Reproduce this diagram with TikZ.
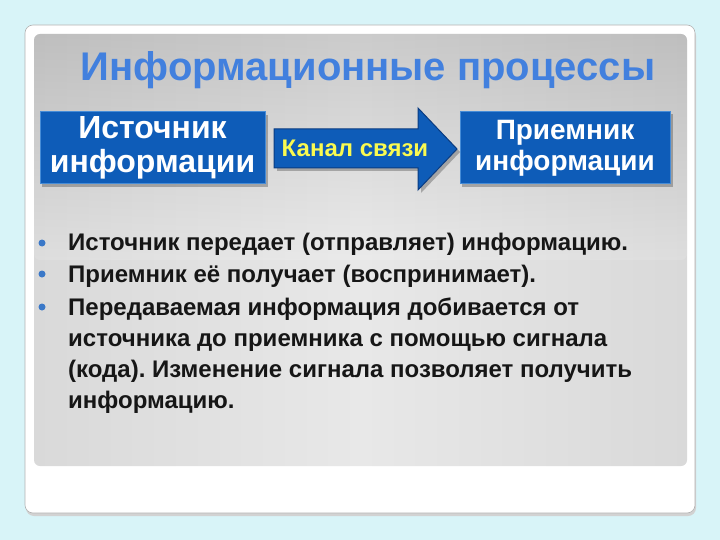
\documentclass[tikz,border=0pt]{standalone}
\usepackage{fontspec}
\setmainfont{Liberation Sans}
\usetikzlibrary{shadings}
\frenchspacing
\definecolor{bgcyan}{RGB}{216,244,248}
\definecolor{titleblue}{RGB}{66,128,222}
\definecolor{boxblue}{RGB}{14,92,184}
\definecolor{boxedge}{RGB}{70,140,215}
\definecolor{arrowedge}{RGB}{10,60,130}
\definecolor{chanyellow}{RGB}{250,250,80}
\definecolor{bulletblue}{RGB}{58,120,200}
\definecolor{txt}{RGB}{22,22,22}
\definecolor{pedge}{RGB}{165,165,165}
\definecolor{plight}{RGB}{208,208,208}
\definecolor{pmid}{RGB}{232,232,232}
\pgfdeclarehorizontalshading{panelh}{100bp}{color(0bp)=(pedge); color(10bp)=(plight); color(50bp)=(pmid); color(90bp)=(plight); color(100bp)=(pedge)}
\tikzset{
  bluebox/.style={draw=boxedge, line width=1pt, fill=boxblue, text=white, align=center, inner sep=0pt},
  btext/.style={anchor=base west, text=txt, font=\fontsize{24}{31}\selectfont\bfseries, inner sep=0pt},
  dot/.style={circle, fill=bulletblue, minimum size=7pt, inner sep=0pt},
}
\begin{document}
\begin{tikzpicture}[x=1pt,y=-1pt]
\useasboundingbox (0,0) rectangle (720,540);
\fill[bgcyan] (0,0) rectangle (720,540);
% frame
\fill[gray!35] (26,28) [rounded corners=8pt] rectangle (696,516);
\draw[gray!60, line width=0.6pt, fill=white, rounded corners=8pt] (25,25) rectangle (695,513);
% panel
\shade[rounded corners=6pt, shading=panelh] (34,34) rectangle (687,466);
\shade[rounded corners=6pt, top color=black, bottom color=white, opacity=0.12] (34,34) rectangle (687,260);
% title
\node[text=titleblue, font=\fontsize{40}{44}\selectfont\bfseries] (title) at (368,70) {Информационные процессы};
% boxes
\fill[black, opacity=0.25] (42,115) rectangle (268,187);
\node[bluebox, minimum width=225pt, minimum height=72pt, font=\fontsize{32}{34}\selectfont\bfseries] (src) at (152.5,148) {Источник\\информации};
\fill[black, opacity=0.25] (462,114) rectangle (673,187);
\node[bluebox, minimum width=210pt, minimum height=72pt, font=\fontsize{28}{31}\selectfont\bfseries] (dst) at (565,148) {Приемник\\информации};
% arrow
\fill[black, opacity=0.25] (277,132) -- (421,132) -- (421,111) -- (460,152) -- (421,193) -- (421,171) -- (277,171) -- cycle;
\draw[arrowedge, line width=1pt, fill=boxblue] (274,129) -- (418,129) -- (418,108) -- (457,149) -- (418,190) -- (418,168) -- (274,168) -- cycle;
\node[text=chanyellow, font=\fontsize{24}{26}\selectfont\bfseries] (chan) at (355,148) {Канал связи};
% bullets
\node[dot] (d1) at (42,243) {};
\node[dot] (d2) at (42,274) {};
\node[dot] (d3) at (42,307) {};
\node[btext] (t1) at (68,251) {Источник передает (отправляет) информацию.};
\node[btext] (t2) at (68,282) {Приемник её получает (воспринимает).};
\node[btext] (t3) at (68,315) {Передаваемая информация добивается от};
\node[btext] (t4) at (68,346) {источника до приемника с помощью сигнала};
\node[btext] (t5) at (68,377) {(кода). Изменение сигнала позволяет получить};
\node[btext] (t6) at (68,408) {информацию.};
\end{tikzpicture}
\end{document}
